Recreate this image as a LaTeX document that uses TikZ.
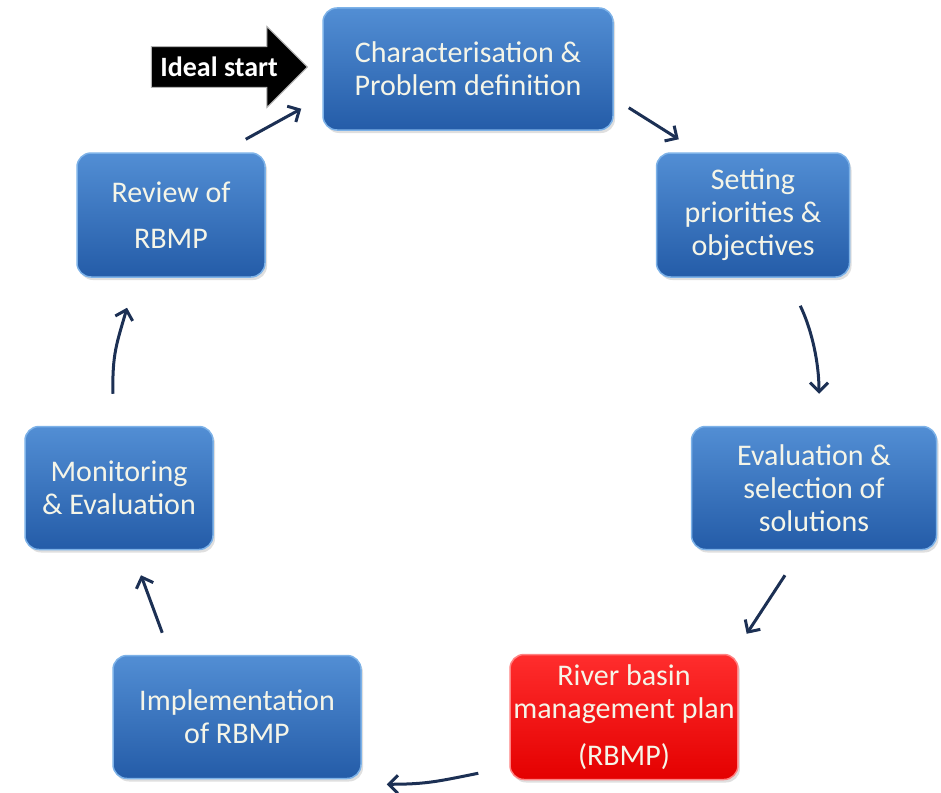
\documentclass[tikz,border=0pt]{standalone}
\usepackage{fontspec}
\setmainfont{Carlito}
\usetikzlibrary{arrows.meta,shapes.arrows,shadows,calc}
\definecolor{boxtop}{RGB}{82,142,212}
\definecolor{boxbottom}{RGB}{36,92,168}
\definecolor{boxrim}{RGB}{125,178,232}
\definecolor{redtop}{RGB}{255,45,45}
\definecolor{redbottom}{RGB}{228,0,0}
\definecolor{redrim}{RGB}{255,130,130}
\definecolor{flowline}{RGB}{28,48,84}
\definecolor{boxtext}{RGB}{245,245,232}

\begin{document}
\begin{tikzpicture}[x=1pt,y=-1pt,
    stage/.style={rectangle, rounded corners=14pt, top color=boxtop, bottom color=boxbottom,
        draw=boxrim, line width=1.5pt, text=boxtext, align=center,
        font=\fontsize{30}{33}\selectfont,
        drop shadow={opacity=0.25, shadow xshift=2pt, shadow yshift=-3pt}},
    planbox/.style={stage, top color=redtop, bottom color=redbottom, draw=redrim},
    flow/.style={draw=flowline, line width=3pt, -{Straight Barb[length=9pt,width=18pt]}}]

    \useasboundingbox (0,0) rectangle (941,792);

    % Boxes
    \node[stage, minimum width=290pt, minimum height=122pt] (char) at (468,69) {Characterisation \&\\Problem definition};
    \node[stage, minimum width=193pt, minimum height=124pt] (prio) at (753,215) {Setting\\priorities \&\\objectives};
    \node[stage, minimum width=245pt, minimum height=123pt] (eval) at (814,488) {Evaluation \&\\selection of\\solutions};
    \node[planbox, minimum width=222pt, minimum height=125pt] (rbmp) at (624,717) {River basin\\management plan\\[14pt](RBMP)};
    \node[stage, minimum width=248pt, minimum height=123pt] (impl) at (237,717) {Implementation\\of RBMP};
    \node[stage, minimum width=188pt, minimum height=123pt] (moni) at (119,488) {Monitoring\\\& Evaluation};
    \node[stage, minimum width=188pt, minimum height=124pt] (rev) at (171,215) {Review of\\[13pt]RBMP};

    % Ideal start
    \node[single arrow, fill=black, draw=white!70!black, line width=1pt, text=white,
        font=\bfseries\fontsize{28}{30}\selectfont, minimum height=156pt,
        single arrow head extend=20pt, inner xsep=5pt, inner ysep=10pt, anchor=tip] (start) at (308,67) {Ideal start};

    % Arrows
    \draw[flow] ($(char.south east)+(15,-23)$) -- ($(prio.north west)+(23,-13)$);
    \draw[flow] ($(prio.south east)+(-50,28)$) .. controls +(12,25) and +(0,-30) .. ($(eval.north)+(5,-32)$);
    \draw[flow] ($(eval.south)+(-29,25)$) -- ($(rbmp.north east)+(8,-20)$);
    \draw[flow] ($(rbmp.south west)+(-31,-7)$) .. controls +(-40,8) and +(40,0) .. ($(impl.south east)+(25,5)$);
    \draw[flow] ($(impl.north west)+(50,-22)$) -- ($(moni.south)+(22,25)$);
    \draw[flow] ($(moni.north)+(-6,-32)$) .. controls +(-1,-40) and +(-10,35) .. ($(rev.south)+(-44,30)$);
    \draw[flow] ($(rev.north east)+(-20,-13)$) -- ($(char.south west)+(-21,-22)$);
\end{tikzpicture}
\end{document}
